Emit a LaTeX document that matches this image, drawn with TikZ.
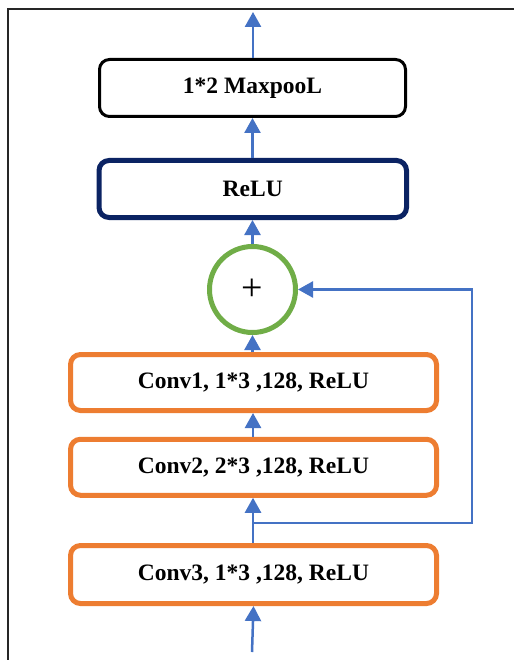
\documentclass[tikz,border=0pt]{standalone}
\usepackage{fontspec}
\setmainfont{Liberation Serif}
\usetikzlibrary{arrows.meta}
\definecolor{flowblue}{HTML}{4472C4}
\definecolor{convorange}{HTML}{ED7D31}
\definecolor{sumgreen}{HTML}{70AD47}
\definecolor{navy}{HTML}{0B2363}
\definecolor{framegray}{HTML}{262626}
\tikzset{
  layerbox/.style={draw, rectangle, rounded corners=10pt, fill=white,
    font=\fontsize{23.5}{28}\selectfont\bfseries, text=black, inner sep=0pt},
  poolbox/.style={layerbox, draw=black, line width=3pt},
  relubox/.style={layerbox, draw=navy, line width=5pt},
  convbox/.style={layerbox, draw=convorange, line width=5pt, minimum width=366pt},
  sumnode/.style={draw=sumgreen, circle, line width=5pt, minimum size=86pt,
    inner sep=0pt, font=\fontsize{38}{40}\selectfont},
  flow/.style={draw=flowblue, line width=2.5pt,
    -{Triangle[width=16pt,length=15pt]}},
}
\begin{document}
\begin{tikzpicture}[x=1pt,y=-1pt]
  \useasboundingbox (0,0) rectangle (514,660);
  % frame edges
  \draw[framegray, line width=2pt] (8,660) -- (8,9.5) -- (514,9.5);

  % layers
  \node[poolbox, minimum width=306pt, minimum height=57pt] (pool) at (252.5,88) {1*2 MaxpooL};
  \node[relubox, minimum width=307.5pt, minimum height=57pt] (relu) at (252.75,189) {ReLU};
  \node[sumnode] (sum) at (252.5,289.5) {+};
  \node[convbox, minimum height=56pt] (conv1) at (253.5,382.5) {Conv1, 1*3 ,128, ReLU};
  \node[convbox, minimum height=56pt] (conv2) at (253.5,467.25) {Conv2, 2*3 ,128, ReLU};
  \node[convbox, minimum height=58pt] (conv3) at (253.5,574.5) {Conv3, 1*3 ,128, ReLU};

  \coordinate (out) at (253,12);
  \coordinate (in) at (252,652);
  \coordinate (branch) at (253,523);
  \coordinate (turn) at (472,523);

  % main path
  \draw[flow] (in) -- (conv3.south);
  \draw[flow] (conv3.north -| branch) -- (conv2.south -| branch);
  \draw[flow] (conv2.north -| branch) -- (conv1.south -| branch);
  \draw[flow] (conv1.north -| sum) -- (sum.south);
  \draw[flow] (sum.north) -- (relu.south -| sum);
  \draw[flow] (relu.north -| sum) -- (pool.south -| sum);
  \draw[flow] (pool.north -| out) -- (out);

  % shortcut connection
  \draw[flow] (branch) -- (turn) |- (sum.east);
\end{tikzpicture}
\end{document}
